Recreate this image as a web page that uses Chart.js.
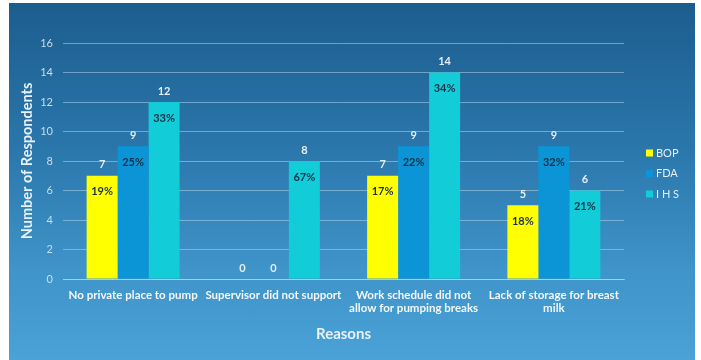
<!DOCTYPE html>
<html>
<head>
<meta charset="utf-8">
<script src="https://cdn.jsdelivr.net/npm/chart.js@4/dist/chart.umd.min.js"></script>
<style>
  body { margin: 0; background: #fff; }
  #slide {
    position: absolute; left: 9px; top: 3px; width: 686px; height: 357px;
    background: linear-gradient(to bottom, #1c5d8d 0%, #2a76ab 40%, #3f94c9 75%, #4aa2d6 100%);
  }
</style>
</head>
<body>
<div id="slide"><canvas id="chart" width="686" height="357"></canvas></div>
<script>
// survey data
const reasons = [
  "No private place to pump",
  "Supervisor did not support",
  ["Work schedule did not", "allow for pumping breaks"],
  ["Lack of storage for breast", "milk"]
];
const bopCounts = [7, 0, 7, 5];
const fdaCounts = [9, 0, 9, 9];
const ihsCounts = [12, 8, 14, 6];
const bopPct = [19, null, 17, 18];
const fdaPct = [25, null, 22, 32];
const ihsPct = [33, 67, 34, 21];
const yTicks = [0, 2, 4, 6, 8, 10, 12, 14, 16];

const FONT = "Lato, 'Open Sans', sans-serif";

// numbers above bars, percentages inside near the top
const barLabels = {
  id: "barLabels",
  afterDatasetsDraw(chart) {
    const ctx = chart.ctx;
    ctx.save();
    ctx.textAlign = "center";
    ctx.textBaseline = "middle";
    chart.data.datasets.forEach((ds, i) => {
      const meta = chart.getDatasetMeta(i);
      meta.data.forEach((bar, j) => {
        ctx.fillStyle = "#e4eef5";
        ctx.font = "bold 11px " + FONT;
        ctx.fillText(String(ds.data[j]), bar.x, bar.y - 11);
        const p = ds.pct[j];
        if (p != null) {
          ctx.fillStyle = "#15324a";
          ctx.font = "bold 11px " + FONT;
          ctx.fillText(p + "%", bar.x, bar.y + 16);
        }
      });
    });
    ctx.restore();
  }
};

// legend on the right side
const sideLegend = {
  id: "sideLegend",
  afterDraw(chart) {
    const ctx = chart.ctx;
    const x = chart.chartArea.right + 22;
    ctx.save();
    ctx.textBaseline = "middle";
    ctx.font = "11px " + FONT;
    chart.data.datasets.forEach((ds, i) => {
      const y = 150 + i * 20.5;
      ctx.fillStyle = ds.backgroundColor;
      ctx.fillRect(x, y - 3.5, 7, 7);
      ctx.fillStyle = "#e4eef5";
      ctx.fillText(ds.label, x + 10, y);
    });
    ctx.restore();
  }
};

new Chart(document.getElementById("chart"), {
  type: "bar",
  data: {
    labels: reasons,
    datasets: [
      { label: "BOP", data: bopCounts, pct: bopPct, backgroundColor: "#ffff00" },
      { label: "FDA", data: fdaCounts, pct: fdaPct, backgroundColor: "#0b95d6" },
      { label: "I H S", data: ihsCounts, pct: ihsPct, backgroundColor: "#12ccd8" }
    ]
  },
  options: {
    responsive: false,
    animation: false,
    layout: { padding: { top: 40, right: 71, left: 0, bottom: 0 } },
    datasets: { bar: { categoryPercentage: 0.663, barPercentage: 1 } },
    plugins: { legend: { display: false }, tooltip: { enabled: false } },
    scales: {
      x: {
        grid: { display: false },
        border: { color: "rgba(190,220,240,0.6)" },
        ticks: {
          color: "#f2f7fa", font: { family: FONT, size: 11.5, weight: "bold", lineHeight: 1.2 },
          padding: 1, maxRotation: 0, autoSkip: false
        },
        title: {
          display: true, text: "Reasons", color: "#e8f1f7",
          font: { family: FONT, size: 15, weight: "bold" },
          padding: { top: 0, bottom: 17 }
        },
        afterFit(scale) { scale.height = 81; }
      },
      y: {
        min: 0, max: 16,
        afterBuildTicks(scale) { scale.ticks = yTicks.map(v => ({ value: v })); },
        grid: { color: "rgba(190,220,240,0.5)", drawTicks: false },
        border: { display: false },
        ticks: { color: "#c9dcea", font: { family: FONT, size: 11 }, padding: 10 },
        title: {
          display: true, text: "Number of Respondents", color: "#e8f1f7",
          font: { family: FONT, size: 14.5, weight: "bold" },
          padding: { top: 10, bottom: 0 }
        },
        afterFit(scale) { scale.width = 54; }
      }
    }
  },
  plugins: [barLabels, sideLegend]
});
</script>
</body>
</html>
